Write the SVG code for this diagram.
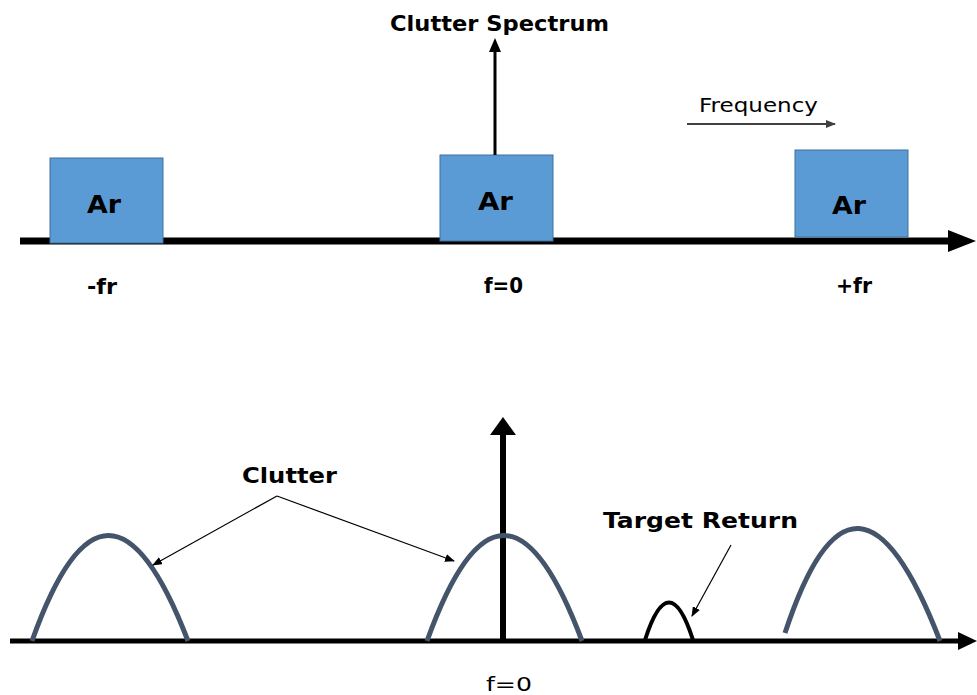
<svg xmlns="http://www.w3.org/2000/svg" width="977" height="695" viewBox="0 0 977 695">
  <style>
    .box { fill: #5B9BD5; stroke: #41719C; stroke-width: 1; }
    .lbl { font-family: "DejaVu Sans", "Liberation Sans", sans-serif; font-weight: bold; fill: #000; text-anchor: middle; }
    .txt { font-family: "DejaVu Sans", "Liberation Sans", sans-serif; fill: #000; text-anchor: middle; }
    .axis { stroke: #000; fill: none; }
    .hump { stroke: #44546A; stroke-width: 5; fill: none; stroke-linecap: butt; }
    .thin { stroke: #000; stroke-width: 1.2; fill: none; }
  </style>
  <defs>
    <marker id="small" markerWidth="10" markerHeight="8" refX="9" refY="4" orient="auto" markerUnits="userSpaceOnUse">
      <path d="M0,0 L10,4 L0,8 Z" fill="#000"/>
    </marker>
    <marker id="freq" markerWidth="10" markerHeight="8" refX="9" refY="4" orient="auto" markerUnits="userSpaceOnUse">
      <path d="M0,0 L10,4 L0,8 Z" fill="#404040"/>
    </marker>
  </defs>

  <!-- top spectrum: axis -->
  <g id="top-axis">
    <line class="axis" x1="20" y1="241" x2="950" y2="241" stroke-width="7"/>
    <path d="M948,230 L976,241 L948,252 Z" fill="#000"/>
  </g>

  <g id="box-minus-fr">
    <rect class="box" x="50" y="158" width="113" height="85"/>
    <text class="lbl" x="104" y="213" font-size="25" textLength="34" lengthAdjust="spacingAndGlyphs">Ar</text>
  </g>
  <g id="box-zero">
    <rect class="box" x="440" y="155" width="113" height="86"/>
    <text class="lbl" x="495.5" y="210" font-size="25" textLength="35" lengthAdjust="spacingAndGlyphs">Ar</text>
  </g>
  <g id="box-plus-fr">
    <rect class="box" x="795" y="150" width="113" height="87"/>
    <text class="lbl" x="849" y="214" font-size="25" textLength="34" lengthAdjust="spacingAndGlyphs">Ar</text>
  </g>

  <g id="top-labels">
    <text class="lbl" x="102" y="294" font-size="21" textLength="30" lengthAdjust="spacingAndGlyphs">-fr</text>
    <text class="lbl" x="503.5" y="293" font-size="21" textLength="39" lengthAdjust="spacingAndGlyphs">f=0</text>
    <text class="lbl" x="854" y="293" font-size="21" textLength="36" lengthAdjust="spacingAndGlyphs">+fr</text>
    <text class="lbl" x="499.5" y="31" font-size="21" textLength="219" lengthAdjust="spacingAndGlyphs">Clutter Spectrum</text>
    <text class="txt" x="758.5" y="112" font-size="19" fill="#222" textLength="119" lengthAdjust="spacingAndGlyphs">Frequency</text>
  </g>

  <!-- bottom spectrum: axis and zero line -->
  <g id="bottom-axis">
    <line class="axis" x1="10" y1="641" x2="962" y2="641" stroke-width="5"/>
    <path d="M958,632 L977,641 L958,650 Z" fill="#000"/>
    <line class="axis" x1="503" y1="641" x2="503" y2="432" stroke-width="6"/>
    <path d="M490,435 L503,417 L516,435 Z" fill="#000"/>
  </g>

  <g id="clutter-1">
    <path class="hump" d="M32,641 Q107,430 188,641"/>
  </g>
  <g id="clutter-2">
    <path class="hump" d="M427,641 Q503,430 582,641"/>
  </g>
  <g id="clutter-3">
    <path class="hump" d="M785,633 Q855,420 940,641"/>
  </g>
  <g id="target">
    <path d="M645,640 Q669,565 693,640" stroke="#000" stroke-width="4" fill="none"/>
  </g>

  <g id="bottom-labels">
    <text class="lbl" x="289.5" y="483" font-size="21" textLength="95" lengthAdjust="spacingAndGlyphs">Clutter</text>
    <text class="lbl" x="700.5" y="528" font-size="21" textLength="195" lengthAdjust="spacingAndGlyphs">Target Return</text>
    <text class="txt" x="509" y="691" font-size="20" textLength="46" lengthAdjust="spacingAndGlyphs">f=0</text>
  </g>

  <g id="connectors">
    <line x1="687" y1="124" x2="835" y2="124" stroke="#404040" stroke-width="2" marker-end="url(#freq)"/>
    <line class="thin" x1="277" y1="496" x2="153" y2="565" marker-end="url(#small)"/>
    <line class="thin" x1="277" y1="496" x2="454" y2="561" marker-end="url(#small)"/>
    <line class="thin" x1="731" y1="545" x2="692" y2="616" marker-end="url(#small)"/>
    <line x1="495" y1="155" x2="495" y2="50" stroke="#000" stroke-width="3"/>
    <path d="M489,52 L495,38 L501,52 Z" fill="#000"/>
  </g>
</svg>
